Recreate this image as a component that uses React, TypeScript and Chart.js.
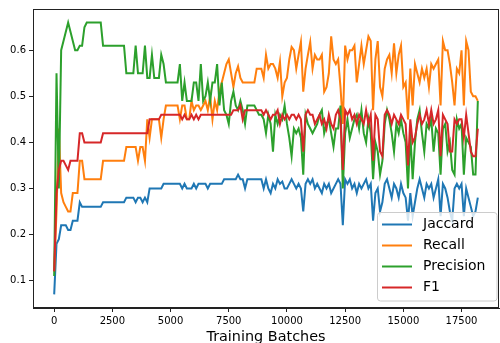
import React, { useEffect, useRef } from 'react';
import { Chart, registerables } from 'chart.js';

Chart.register(...registerables);

const BATCH_STEP = 100;
const jaccard = [
  0.07, 0.18, 0.19, 0.22, 0.22, 0.22, 0.21, 0.21, 0.23, 0.23,
  0.23, 0.27, 0.26, 0.26, 0.26, 0.26, 0.26, 0.26, 0.26, 0.26,
  0.26, 0.27, 0.27, 0.27, 0.27, 0.27, 0.27, 0.27, 0.27, 0.27,
  0.27, 0.28, 0.28, 0.28, 0.28, 0.27, 0.28, 0.28, 0.27, 0.28,
  0.27, 0.30, 0.30, 0.30, 0.30, 0.30, 0.30, 0.31, 0.31, 0.31,
  0.31, 0.31, 0.31, 0.31, 0.31, 0.30, 0.31, 0.30, 0.30, 0.30,
  0.31, 0.30, 0.31, 0.31, 0.31, 0.31, 0.30, 0.31, 0.31, 0.31,
  0.31, 0.31, 0.31, 0.32, 0.32, 0.32, 0.32, 0.32, 0.32, 0.33,
  0.32, 0.32, 0.30, 0.32, 0.32, 0.32, 0.32, 0.32, 0.32, 0.32,
  0.30, 0.32, 0.30, 0.29, 0.31, 0.30, 0.32, 0.31, 0.315, 0.30,
  0.30, 0.31, 0.32, 0.31, 0.30, 0.31, 0.30, 0.25, 0.31, 0.32,
  0.31, 0.32, 0.30, 0.31, 0.30, 0.29, 0.31, 0.30, 0.31, 0.29,
  0.30, 0.31, 0.32, 0.31, 0.22, 0.32, 0.31, 0.32, 0.30, 0.31,
  0.29, 0.31, 0.30, 0.31, 0.32, 0.30, 0.31, 0.23, 0.29, 0.30,
  0.25, 0.27, 0.31, 0.32, 0.30, 0.28, 0.31, 0.30, 0.28, 0.31,
  0.29, 0.28, 0.23, 0.29, 0.24, 0.27, 0.30, 0.32, 0.30, 0.28,
  0.31, 0.30, 0.31, 0.28, 0.30, 0.32, 0.24, 0.31, 0.30, 0.28,
  0.25, 0.23, 0.30, 0.31, 0.30, 0.31, 0.24, 0.30, 0.28, 0.26,
  0.24, 0.25, 0.28,
];
const recall = [
  0.12, 0.25, 0.43, 0.29, 0.27, 0.26, 0.25, 0.25, 0.29, 0.29,
  0.29, 0.36, 0.36, 0.32, 0.32, 0.32, 0.32, 0.32, 0.32, 0.32,
  0.32, 0.36, 0.36, 0.36, 0.36, 0.36, 0.36, 0.36, 0.36, 0.36,
  0.36, 0.39, 0.39, 0.39, 0.39, 0.39, 0.36, 0.39, 0.39, 0.36,
  0.45, 0.41, 0.45, 0.45, 0.45, 0.45, 0.41, 0.45, 0.48, 0.48,
  0.48, 0.48, 0.48, 0.48, 0.45, 0.48, 0.48, 0.45, 0.45, 0.49,
  0.47, 0.48, 0.48, 0.47, 0.48, 0.49, 0.47, 0.50, 0.45, 0.49,
  0.47, 0.51, 0.53, 0.55, 0.57, 0.58, 0.55, 0.52, 0.55, 0.565,
  0.54, 0.53, 0.53, 0.53, 0.53, 0.53, 0.53, 0.56, 0.56, 0.56,
  0.54, 0.59, 0.56, 0.57, 0.57, 0.56, 0.54, 0.575, 0.50, 0.53,
  0.54, 0.58, 0.607, 0.60, 0.56, 0.59, 0.618, 0.51, 0.56, 0.59,
  0.618, 0.56, 0.59, 0.58, 0.58, 0.59, 0.51, 0.52, 0.55, 0.63,
  0.58, 0.57, 0.58, 0.52, 0.44, 0.61, 0.58, 0.60, 0.60, 0.61,
  0.53, 0.57, 0.61, 0.57, 0.60, 0.63, 0.62, 0.47, 0.58, 0.62,
  0.52, 0.50, 0.56, 0.58, 0.59, 0.55, 0.615, 0.55, 0.59, 0.61,
  0.52, 0.53, 0.45, 0.56, 0.48, 0.57, 0.55, 0.53, 0.56, 0.54,
  0.56, 0.52, 0.57, 0.56, 0.57, 0.58, 0.48, 0.62, 0.60, 0.60,
  0.57, 0.53, 0.48, 0.56, 0.55, 0.60, 0.48, 0.62, 0.60, 0.51,
  0.50, 0.50, 0.49,
];
const precision = [
  0.11, 0.55, 0.30, 0.60, 0.62, 0.64, 0.66, 0.64, 0.62, 0.60,
  0.60, 0.61, 0.61, 0.65, 0.66, 0.66, 0.66, 0.66, 0.66, 0.66,
  0.66, 0.61, 0.61, 0.61, 0.61, 0.61, 0.61, 0.61, 0.61, 0.61,
  0.61, 0.55, 0.55, 0.55, 0.55, 0.61, 0.55, 0.55, 0.55, 0.61,
  0.54, 0.54, 0.59, 0.54, 0.54, 0.54, 0.59, 0.57, 0.53, 0.53,
  0.53, 0.53, 0.53, 0.53, 0.57, 0.49, 0.53, 0.49, 0.49, 0.49,
  0.53, 0.53, 0.49, 0.57, 0.49, 0.50, 0.53, 0.49, 0.53, 0.53,
  0.57, 0.48, 0.53, 0.47, 0.46, 0.44, 0.49, 0.51, 0.48, 0.47,
  0.49, 0.47, 0.44, 0.48, 0.48, 0.48, 0.48, 0.47, 0.46, 0.46,
  0.45, 0.42, 0.46, 0.44, 0.38, 0.46, 0.44, 0.46, 0.45, 0.48,
  0.44, 0.41, 0.37, 0.43, 0.42, 0.43, 0.41, 0.33, 0.46, 0.44,
  0.43, 0.42, 0.43, 0.44, 0.46, 0.47, 0.42, 0.44, 0.45, 0.42,
  0.39, 0.43, 0.43, 0.48, 0.30, 0.42, 0.45, 0.41, 0.43, 0.45,
  0.46, 0.43, 0.47, 0.42, 0.40, 0.45, 0.42, 0.32, 0.40, 0.38,
  0.33, 0.36, 0.44, 0.47, 0.45, 0.42, 0.38, 0.44, 0.42, 0.45,
  0.42, 0.40, 0.30, 0.42, 0.32, 0.40, 0.45, 0.47, 0.42, 0.38,
  0.44, 0.43, 0.45, 0.38, 0.43, 0.42, 0.33, 0.43, 0.44, 0.38,
  0.40, 0.34, 0.33, 0.45, 0.43, 0.44, 0.33, 0.41, 0.40, 0.39,
  0.33, 0.33, 0.49,
];
const f1 = [
  0.12, 0.29, 0.34, 0.36, 0.36, 0.35, 0.34, 0.36, 0.36, 0.36,
  0.36, 0.42, 0.42, 0.40, 0.40, 0.40, 0.40, 0.40, 0.40, 0.40,
  0.40, 0.42, 0.42, 0.42, 0.42, 0.42, 0.42, 0.42, 0.42, 0.42,
  0.42, 0.42, 0.42, 0.42, 0.42, 0.42, 0.42, 0.42, 0.42, 0.42,
  0.42, 0.45, 0.45, 0.45, 0.45, 0.45, 0.46, 0.46, 0.46, 0.46,
  0.46, 0.46, 0.46, 0.46, 0.46, 0.45, 0.46, 0.45, 0.45, 0.46,
  0.45, 0.46, 0.45, 0.46, 0.46, 0.46, 0.46, 0.46, 0.46, 0.46,
  0.46, 0.46, 0.46, 0.46, 0.46, 0.46, 0.46, 0.47, 0.47, 0.47,
  0.48, 0.45, 0.47, 0.47, 0.47, 0.47, 0.47, 0.47, 0.47, 0.47,
  0.46, 0.47, 0.46, 0.45, 0.46, 0.46, 0.47, 0.44, 0.46, 0.45,
  0.46, 0.45, 0.46, 0.46, 0.45, 0.46, 0.45, 0.38, 0.46, 0.47,
  0.46, 0.46, 0.44, 0.45, 0.46, 0.44, 0.45, 0.43, 0.46, 0.44,
  0.43, 0.46, 0.47, 0.45, 0.34, 0.47, 0.46, 0.47, 0.45, 0.46,
  0.44, 0.46, 0.45, 0.44, 0.47, 0.44, 0.46, 0.36, 0.46, 0.45,
  0.38, 0.37, 0.46, 0.47, 0.46, 0.44, 0.46, 0.45, 0.44, 0.46,
  0.45, 0.44, 0.35, 0.45, 0.40, 0.41, 0.44, 0.46, 0.44, 0.45,
  0.47, 0.44, 0.47, 0.44, 0.45, 0.47, 0.37, 0.46, 0.45, 0.44,
  0.38, 0.38, 0.45, 0.44, 0.45, 0.45, 0.41, 0.46, 0.42, 0.38,
  0.37, 0.37, 0.43,
];
const batches = jaccard.map((_, i) => i * BATCH_STEP);

const xTicks = [0, 2500, 5000, 7500, 10000, 12500, 15000, 17500];
const yTicks = [0.1, 0.2, 0.3, 0.4, 0.5, 0.6];
const seriesNames = ['Jaccard', 'Recall', 'Precision', 'F1'];
const seriesColors = ['#1f77b4', '#ff7f0e', '#2ca02c', '#d62728'];
const seriesValues = [jaccard, recall, precision, f1];

const FONT = 'DejaVu Sans';

const framePlugin = {
  id: 'frame',
  afterDatasetsDraw(chart: any) {
    const { ctx, chartArea } = chart;
    ctx.save();
    ctx.strokeStyle = '#222';
    ctx.lineWidth = 1;
    ctx.strokeRect(
      Math.round(chartArea.left) + 0.5,
      Math.round(chartArea.top) + 0.5,
      Math.round(chartArea.right - chartArea.left) - 1,
      Math.round(chartArea.bottom - chartArea.top) - 1
    );
    ctx.restore();
  },
};

const legendPlugin = {
  id: 'mplLegend',
  afterDraw(chart: any) {
    const { ctx, chartArea } = chart;
    const w = 120;
    const h = 89;
    const x0 = chartArea.right - w - 2;
    const y0 = chartArea.bottom - h - 7;
    ctx.save();
    ctx.fillStyle = 'rgba(255,255,255,0.8)';
    ctx.strokeStyle = '#cccccc';
    ctx.lineWidth = 1;
    ctx.beginPath();
    const r = 3;
    ctx.moveTo(x0 + r, y0 + 0.5);
    ctx.arcTo(x0 + w, y0 + 0.5, x0 + w, y0 + h, r);
    ctx.arcTo(x0 + w, y0 + h, x0, y0 + h, r);
    ctx.arcTo(x0 + 0.5, y0 + h, x0 + 0.5, y0, r);
    ctx.arcTo(x0 + 0.5, y0 + 0.5, x0 + w, y0 + 0.5, r);
    ctx.closePath();
    ctx.fill();
    ctx.stroke();
    ctx.font = `14px "${FONT}"`;
    ctx.textBaseline = 'middle';
    ctx.textAlign = 'left';
    seriesNames.forEach((name, i) => {
      const cy = y0 + 12.5 + i * 21;
      ctx.strokeStyle = seriesColors[i];
      ctx.lineWidth = 2;
      ctx.beginPath();
      ctx.moveTo(x0 + 5, cy);
      ctx.lineTo(x0 + 35, cy);
      ctx.stroke();
      ctx.fillStyle = '#000';
      ctx.fillText(name, x0 + 46, cy);
    });
    ctx.restore();
  },
};

export default function App() {
  const ref = useRef<HTMLCanvasElement | null>(null);
  useEffect(() => {
    if (!ref.current) return;
    const chart = new Chart(ref.current, {
      type: 'line',
      data: {
        datasets: seriesNames.map((name, si) => ({
          label: name,
          data: seriesValues[si].map((v, i) => ({ x: batches[i], y: v })),
          borderColor: seriesColors[si],
          backgroundColor: seriesColors[si],
          borderWidth: 2,
          pointRadius: 0,
          tension: 0,
          fill: false,
          order: seriesNames.length - si,
        })),
      },
      options: {
        animation: false,
        responsive: false,
        maintainAspectRatio: false,
        layout: { padding: { top: 9, right: 1, left: 0, bottom: 0 } },
        plugins: { legend: { display: false }, tooltip: { enabled: false } },
        scales: {
          x: {
            type: 'linear',
            min: -910,
            max: 19110,
            afterBuildTicks: (s: any) => {
              s.ticks = xTicks.map((v) => ({ value: v }));
            },
            afterFit: (s: any) => {
              s.height = 35;
            },
            ticks: {
              font: { family: FONT, size: 10 },
              color: '#000',
              maxRotation: 0,
              autoSkip: false,
              padding: 3,
              callback: (v: any) => String(v),
            },
            grid: { drawOnChartArea: false, drawTicks: true, tickLength: 4, color: '#222' },
            border: { display: true, color: '#222' },
            title: {
              display: true,
              text: 'Training Batches',
              font: { family: FONT, size: 14.4 },
              color: '#000',
              padding: { top: 0, bottom: -3 },
            },
          },
          y: {
            type: 'linear',
            min: 0.0405,
            max: 0.6895,
            afterBuildTicks: (s: any) => {
              s.ticks = yTicks.map((v) => ({ value: v }));
            },
            afterFit: (s: any) => {
              s.width = 33;
            },
            ticks: {
              font: { family: FONT, size: 10 },
              color: '#000',
              padding: 3,
              callback: (v: any) => Number(v).toFixed(1),
            },
            grid: { drawOnChartArea: false, drawTicks: true, tickLength: 4, color: '#222' },
            border: { display: true, color: '#222' },
          },
        },
      },
      plugins: [framePlugin, legendPlugin],
    } as any);
    return () => chart.destroy();
  }, []);
  return (
    <div style={{ position: 'fixed', left: 0, top: 0, width: 500, height: 343, background: '#fff' }}>
      <canvas ref={ref} width={500} height={343} style={{ width: 500, height: 343, display: 'block' }} />
    </div>
  );
}
